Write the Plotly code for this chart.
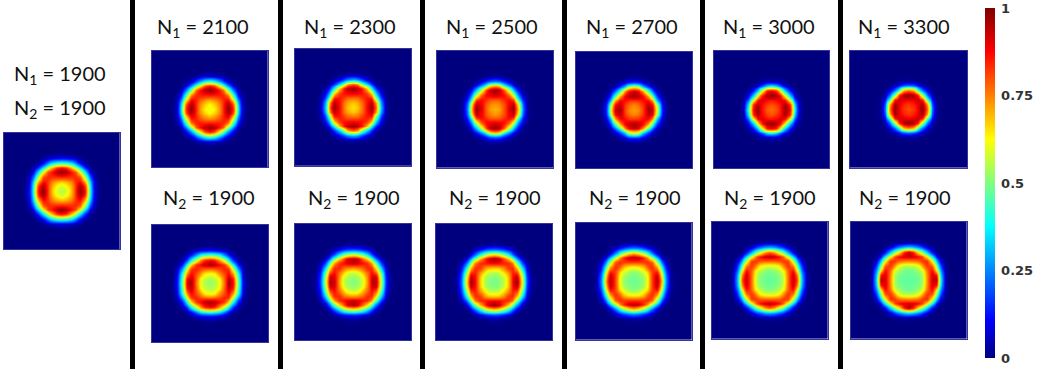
import plotly.graph_objects as go

W, H = 1038, 369

# Values: one octant of each map, rows run outward
# from the centre along x, columns outward along y, on a coarse grid.
n1_1900_n2_1900 = [[.55],[.58,.62],[.68,.70,.75],[.84,.83,.83,.84],[.99,.96,.87,.80,.62],
                   [.87,.83,.70,.54,.35,.14],[.44,.42,.36,.24,.11,.03],[.10,.09,.08,.05,.02],[.01,.01]]
top_2100 = [[.60],[.63,.67],[.72,.74,.79],[.86,.85,.85,.84],[.99,.96,.87,.76,.50],
            [.85,.80,.62,.44,.24,.08],[.42,.38,.27,.15,.06,.01],[.07,.06,.05,.02],[.01]]
top_2300 = [[.65],[.68,.71],[.76,.77,.82],[.88,.87,.86,.82],[.98,.95,.85,.68,.39],
            [.78,.72,.50,.32,.15,.03],[.30,.26,.17,.09,.03],[.04,.03,.02,.01]]
top_2500 = [[.70],[.72,.75],[.79,.80,.84],[.91,.89,.87,.78],[.98,.94,.80,.56,.31],
            [.70,.64,.41,.25,.11,.02],[.22,.19,.12,.06,.015],[.02,.02,.01]]
top_2700 = [[.72],[.74,.77],[.82,.83,.87],[.97,.94,.88,.72],[.92,.88,.72,.44,.21],
            [.60,.54,.30,.16,.05,.01],[.14,.12,.07,.03],[.01,.01]]
top_3000 = [[.77],[.79,.82],[.86,.87,.91],[.98,.96,.86,.62],[.88,.84,.60,.31,.13],
            [.40,.34,.20,.09,.02],[.06,.05,.03,.01]]
top_3300 = [[.80],[.82,.85],[.89,.90,.93],[.99,.96,.84,.52],[.76,.70,.42,.21,.07],
            [.24,.20,.12,.05,.01],[.02,.02,.01]]
bot_2100 = [[.52],[.54,.57],[.60,.62,.72],[.76,.78,.80,.85],[.97,.94,.88,.83,.66],
            [.88,.85,.74,.58,.38,.16],[.48,.45,.41,.27,.13,.04],[.12,.11,.09,.06,.02],[.01,.01]]
bot_2300 = [[.50],[.52,.54],[.57,.59,.68],[.72,.74,.77,.84],[.93,.91,.87,.84,.72],
            [.95,.92,.79,.65,.45,.21],[.56,.52,.46,.33,.17,.05],[.16,.15,.12,.08,.03],[.02,.02,.01]]
bot_2500 = [[.49],[.50,.52],[.55,.56,.64],[.67,.68,.73,.82],[.88,.87,.85,.84,.76],
            [.98,.94,.82,.69,.49,.25],[.62,.58,.50,.37,.20,.06],[.20,.18,.15,.10,.04],[.03,.02,.01]]
bot_2700 = [[.48],[.49,.50],[.52,.53,.60],[.62,.63,.68,.79],[.82,.82,.82,.84,.79],
            [.96,.94,.85,.72,.53,.29],[.70,.64,.54,.41,.23,.07],[.24,.22,.17,.12,.05,.01],[.03,.03,.02,.01]]
bot_3000 = [[.47],[.48,.49],[.50,.51,.56],[.58,.59,.63,.75],[.78,.78,.79,.83,.82],
            [.94,.93,.87,.76,.57,.33],[.78,.72,.58,.45,.27,.09],[.28,.26,.20,.14,.06,.01],[.04,.03,.02,.01]]
bot_3300 = [[.47],[.47,.48],[.48,.49,.53],[.54,.55,.59,.72],[.74,.75,.77,.83,.84],
            [.92,.91,.88,.80,.62,.37],[.95,.86,.64,.50,.31,.11,.01],[.33,.30,.24,.16,.07,.01],[.03,.03,.02,.01]]

colorbar_ticks = [0, .25, .5, .75, 1]
colorbar_labels = ["0", "0.25", "0.5", "0.75", "1"]
n1_labels = ["1900", "2100", "2300", "2500", "2700", "3000", "3300"]
n2_label = "1900"

jet = [[0, "#00007f"], [.11, "#0000ff"], [.375, "#00ffff"], [.625, "#ffff00"], [.875, "#ff0000"], [1, "#7f0000"]]

HALF = 12


def expand(octant):
    def cell(a, b):
        a, b = abs(a), abs(b)
        if a < b:
            a, b = b, a
        if a >= len(octant) or b >= len(octant[a]):
            return 0
        return octant[a][b]
    span = range(-HALF, HALF + 1)
    return [[cell(x, y) for x in span] for y in span]


# (table, left, right, top, bottom) in window pixels
panels = [
    (n1_1900_n2_1900, 3.5, 119.5, 132.5, 249),
    (top_2100, 151.5, 267.5, 50.5, 167),
    (top_2300, 294.5, 411, 49, 165.5),
    (top_2500, 436.5, 553, 50.5, 167.5),
    (top_2700, 575.5, 692, 51.5, 168),
    (top_3000, 713.5, 829, 51, 168),
    (top_3300, 850, 967, 50.5, 167.5),
    (bot_2100, 151.5, 268, 224.5, 342),
    (bot_2300, 294.5, 411, 223.5, 340),
    (bot_2500, 435.5, 552, 223.5, 340),
    (bot_2700, 575.5, 691.5, 222.5, 339.5),
    (bot_3000, 711.5, 827.5, 221.5, 338.5),
    (bot_3300, 850.5, 966.5, 221.5, 338.5),
]

fig = go.Figure()
layout = {}
for k, (tab, l, r, t, b) in enumerate(panels, start=1):
    suffix = "" if k == 1 else str(k)
    fig.add_trace(go.Heatmap(
        z=expand(tab), coloraxis="coloraxis", zsmooth="best", hoverinfo="skip",
        xaxis="x" + suffix, yaxis="y" + suffix))
    axis = dict(showticklabels=False, ticks="", showgrid=False, zeroline=False,
                showline=True, linecolor="#34349c", linewidth=1, mirror=True)
    layout["xaxis" + suffix] = dict(domain=[l / W, r / W], anchor="y" + suffix, **axis)
    layout["yaxis" + suffix] = dict(domain=[1 - b / H, 1 - t / H], anchor="x" + suffix, **axis)

font = dict(family="Lato, Carlito, sans-serif", size=20, color="#111111")
ann = []


def label(text, x, y):
    ann.append(dict(text=text, x=x / W, y=1 - y / H, xref="paper", yref="paper",
                    xanchor="center", yanchor="middle", showarrow=False, font=font))


label(f"N<sub>1</sub> = {n1_labels[0]}", 60, 74)
label(f"N<sub>2</sub> = {n2_label}", 60, 108)
for name, x in zip(n1_labels[1:], [203, 350, 492, 632, 769, 904]):
    label(f"N<sub>1</sub> = {name}", x, 28)
for x in [209, 354, 495, 635, 770, 905]:
    label(f"N<sub>2</sub> = {n2_label}", x, 198)

shapes = [dict(type="rect", xref="paper", yref="paper", x0=a / W, x1=(a + 5) / W, y0=0, y1=1,
               fillcolor="black", line_width=0, layer="above")
          for a in [130, 278, 420, 562, 700, 838]]

fig.update_layout(
    width=W, height=H, margin=dict(l=0, r=0, t=0, b=0),
    paper_bgcolor="white", plot_bgcolor="#00007f", showlegend=False,
    annotations=ann, shapes=shapes,
    coloraxis=dict(
        colorscale=jet, cmin=0, cmax=1,
        colorbar=dict(x=985 / W, xanchor="left", y=1 - 183 / H, yanchor="middle",
                      thickness=10, thicknessmode="pixels", len=350, lenmode="pixels",
                      xpad=0, ypad=0, outlinewidth=0, ticks="outside", ticklen=4,
                      tickcolor="rgba(0,0,0,0)", tickvals=colorbar_ticks,
                      ticktext=colorbar_labels,
                      tickfont=dict(family="DejaVu Sans", size=13, color="#333333", weight="bold"))),
    **layout)

fig.write_html("out.html", config={"displayModeBar": False},
               post_script="document.body.style.margin='0';document.body.style.overflow='hidden';")
